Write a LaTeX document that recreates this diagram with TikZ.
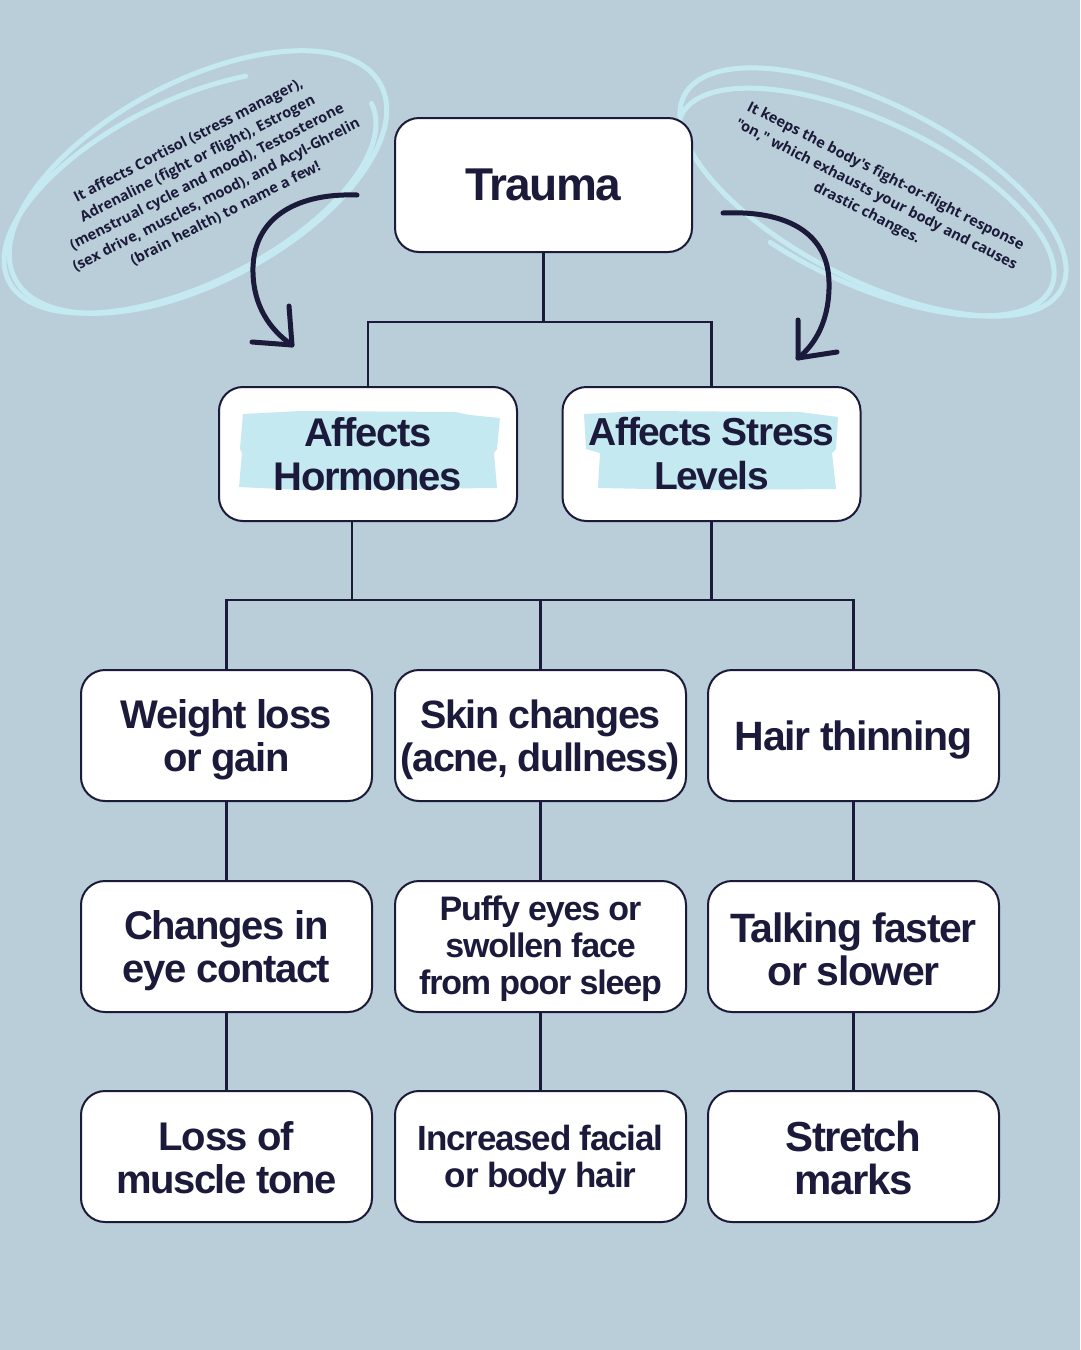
\documentclass[tikz,border=0pt]{standalone}
\usepackage{fontspec}
\setmainfont{Liberation Sans}
\newfontfamily\boxfont{Liberation Sans}[LetterSpace=-3.5]
\newfontfamily\notefont{Open Sans}
\definecolor{bg}{HTML}{B9CED8}
\definecolor{navy}{HTML}{1B1A3A}
\definecolor{hl}{HTML}{C5E9F1}
\begin{document}
\begin{tikzpicture}[x=1pt,y=-1pt,
  box/.style={draw=navy, line width=2pt, fill=white, rounded corners=24pt,
    minimum width=291pt, minimum height=131pt, inner sep=0pt},
  bigbox/.style={box, minimum width=298pt, minimum height=134pt},
  boxtext/.style={text=navy, inner sep=0pt, align=center,
    font=\boxfont\bfseries\fontsize{40}{43}\selectfont},
  conn/.style={draw=navy, line width=2.2pt},
  scribble/.style={draw=hl, line width=5pt, line cap=round},
  arrowline/.style={draw=navy, line width=5pt, line cap=round, line join=round},
  note/.style={text=navy, font=\notefont\bfseries\fontsize{14.6}{20.5}\selectfont, align=center, inner sep=0pt}
]
\useasboundingbox (0,0) rectangle (1080,1350);
\fill[bg] (0,0) rectangle (1080,1350);

% scribbled ellipses
\draw[scribble, rotate around={28:(198,182)}] (198,182) ellipse [x radius=207, y radius=100];
\draw[scribble, rotate around={26:(190,192)}] (392,192) arc [start angle=0, end angle=300, x radius=202, y radius=92];
\draw[scribble, rotate around={-27:(873,192)}] (873,192) ellipse [x radius=212, y radius=88];
\draw[scribble, rotate around={-25:(866,202)}] (662,202) arc [start angle=180, end angle=470, x radius=204, y radius=82];

% notes
\node[note, rotate=27] (notel) at (207,177) {It affects Cortisol (stress manager),\\Adrenaline (fight or flight), Estrogen\\(menstrual cycle and mood), Testosterone\\(sex drive, muscles, mood), and Acyl-Ghrelin\\(brain health) to name a few!};
\node[note, rotate=-27] (noter) at (876,195) {It keeps the body's fight-or-flight response\\\char34 on,\char34\ which exhausts your body and causes\\drastic changes.};

% boxes
\node[box, minimum width=297pt, minimum height=134pt] (trauma) at (543.5,185) {};
\node[bigbox] (hormones) at (368,454) {};
\node[bigbox] (stress) at (711.5,454) {};
\node[box] (weight) at (226.5,735.5) {};
\node[box] (skin) at (540.5,735.5) {};
\node[box] (hair) at (853.5,735.5) {};
\node[box] (eye) at (226.5,946.5) {};
\node[box] (puffy) at (540.5,946.5) {};
\node[box] (talk) at (853.5,946.5) {};
\node[box] (muscle) at (226.5,1156.5) {};
\node[box] (facial) at (540.5,1156.5) {};
\node[box] (stretch) at (853.5,1156.5) {};

% brush highlights
\fill[hl] (243,414) -- (300,411) -- (455,412) -- (470,415) -- (500,418) -- (497,449) -- (494,453) -- (497,488) -- (300,490) -- (239,487) -- (242,453) -- (240,449) -- cycle;
\fill[hl] (584,414) -- (640,411) -- (800,412) -- (838,417) -- (836,449) -- (832,453) -- (836,489) -- (700,490) -- (598,488) -- (600,453) -- (586,449) -- cycle;

% box texts
\node[boxtext, font=\boxfont\bfseries\fontsize{46}{50}\selectfont] (traumaT) at (trauma.center) {Trauma};
\node[boxtext, font=\boxfont\bfseries\fontsize{40}{44}\selectfont] (hormonesT) at (hormones.center) {Affects\\Hormones};
\node[boxtext, font=\boxfont\bfseries\fontsize{39}{44}\selectfont] (stressT) at (stress.center) {Affects Stress\\Levels};
\node[boxtext] (weightT) at ([yshift=-4pt]weight.center) {Weight loss\\or gain};
\node[boxtext, font=\boxfont\bfseries\fontsize{39.5}{43}\selectfont] (skinT) at ([yshift=-4pt]skin.center) {Skin changes\\(acne, dullness)};
\node[boxtext, font=\boxfont\bfseries\fontsize{41}{43}\selectfont] (hairT) at ([yshift=-4pt]hair.center) {Hair thinning};
\node[boxtext] (eyeT) at ([yshift=-4pt]eye.center) {Changes in\\eye contact};
\node[boxtext, font=\boxfont\bfseries\fontsize{34}{37}\selectfont] (puffyT) at ([yshift=-2pt]puffy.center) {Puffy eyes or\\swollen face\\from poor sleep};
\node[boxtext, font=\boxfont\bfseries\fontsize{41}{43}\selectfont] (talkT) at ([yshift=-3pt]talk.center) {Talking faster\\or slower};
\node[boxtext] (muscleT) at ([yshift=-1pt]muscle.center) {Loss of\\muscle tone};
\node[boxtext, font=\boxfont\bfseries\fontsize{35}{37}\selectfont] (facialT) at ([yshift=-3pt]facial.center) {Increased facial\\or body hair};
\node[boxtext, font=\boxfont\bfseries\fontsize{42}{43}\selectfont] (stretchT) at ([yshift=-1pt]stretch.center) {Stretch\\marks};

% connectors
\coordinate (j1) at (543.5,322);
\draw[conn] (trauma.south) -- (j1);
\draw[conn] (hormones.north) |- (j1) -| (stress.north);
\coordinate (j2) at (540.5,600);
\draw[conn] ([xshift=-16pt]hormones.south) -- ([xshift=-16pt]hormones.south |- j2);
\draw[conn] (stress.south) -- (stress.south |- j2);
\draw[conn] (weight.north) |- (j2) -| (hair.north);
\draw[conn] (j2) -- (skin.north);
\draw[conn] (weight.south) -- (eye.north);
\draw[conn] (skin.south) -- (puffy.north);
\draw[conn] (hair.south) -- (talk.north);
\draw[conn] (eye.south) -- (muscle.north);
\draw[conn] (puffy.south) -- (facial.north);
\draw[conn] (talk.south) -- (stretch.north);

% curved arrows
\coordinate (la1) at (357,195);
\coordinate (la2) at (292,345);
\draw[arrowline] (la1) .. controls (300,193) and (255,215) .. (253,267) .. controls (252,305) and (270,330) .. (la2);
\draw[arrowline] (289,306) -- (la2) -- (252,342);
\coordinate (ra1) at (723,213);
\coordinate (ra2) at (798,358);
\draw[arrowline] (ra1) .. controls (790,210) and (828,235) .. (829,282) .. controls (830,320) and (815,345) .. (ra2);
\draw[arrowline] (798,320) -- (ra2) -- (837,352);
\end{tikzpicture}
\end{document}
